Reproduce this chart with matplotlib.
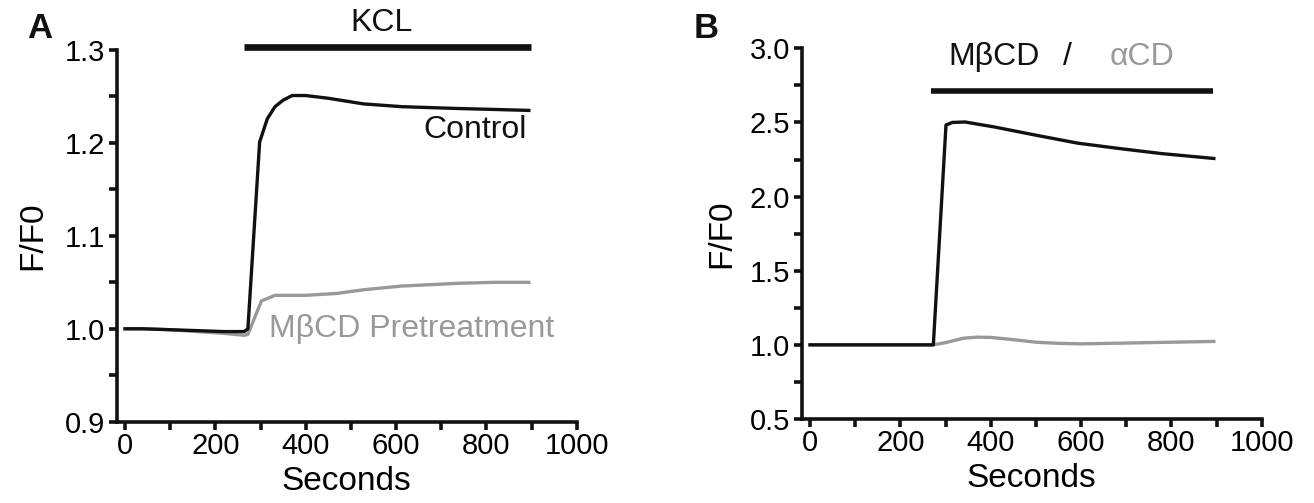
import matplotlib
matplotlib.use("Agg")
import matplotlib.pyplot as plt
from matplotlib.ticker import MultipleLocator

plt.rcParams["font.family"] = ["Liberation Sans", "DejaVu Sans"]

# Panel A: KCL response, control vs MbCD pretreatment
a_ctrl_t = [0, 40, 100, 160, 220, 264, 272, 298, 315, 332, 350, 370, 400, 451, 528, 613, 740, 820, 894]
a_ctrl_v = [1.000, 1.000, 0.999, 0.998, 0.997, 0.997, 1.000, 1.201, 1.226, 1.239, 1.246, 1.251, 1.251, 1.248, 1.242, 1.239, 1.237, 1.236, 1.235]
a_mbcd_t = [0, 40, 100, 160, 220, 264, 272, 302, 332, 400, 468, 528, 613, 740, 820, 894]
a_mbcd_v = [1.000, 1.000, 0.999, 0.997, 0.995, 0.993, 0.994, 1.030, 1.036, 1.036, 1.038, 1.042, 1.046, 1.049, 1.050, 1.050]

# Panel B: MbCD vs aCD application
b_mbcd_t = [0, 100, 200, 273, 301, 315, 343, 407, 500, 593, 685, 778, 894]
b_mbcd_v = [1.0, 1.0, 1.0, 1.0, 2.482, 2.500, 2.503, 2.47, 2.414, 2.36, 2.324, 2.29, 2.257]
b_acd_t = [0, 100, 200, 273, 300, 340, 370, 400, 450, 500, 550, 600, 700, 800, 894]
b_acd_v = [1.0, 1.0, 1.0, 1.0, 1.015, 1.045, 1.052, 1.050, 1.035, 1.018, 1.010, 1.007, 1.012, 1.018, 1.023]

black = "#111111"
gray = "#999999"
fs_tick = 21
fs_lab = 24
fs_txt = 23

fig = plt.figure(figsize=(13.14, 5.03), dpi=100)
axA = fig.add_axes([0.0888, 0.1616, 0.3501, 0.739])
axB = fig.add_axes([0.6101, 0.167, 0.3501, 0.737])


def style(ax, ymin, ymax, ymaj, ymin_step, ypad):
    ax.set_xlim(-18.5, 1000)
    ax.set_ylim(ymin, ymax)
    for s in ["top", "right"]:
        ax.spines[s].set_visible(False)
    for s in ["left", "bottom"]:
        ax.spines[s].set_linewidth(2.6)
        ax.spines[s].set_color(black)
    ax.xaxis.set_major_locator(MultipleLocator(200))
    ax.xaxis.set_minor_locator(MultipleLocator(100))
    ax.yaxis.set_major_locator(MultipleLocator(ymaj))
    ax.yaxis.set_minor_locator(MultipleLocator(ymin_step))
    ax.tick_params(which="both", direction="out", length=5.5, width=2.6,
                   color=black, labelsize=fs_tick)
    ax.tick_params(axis="y", pad=3)
    ax.tick_params(axis="x", pad=2)
    ax.set_xlabel("Seconds", fontsize=fs_lab, labelpad=4)
    ax.set_ylabel("F/F0", fontsize=fs_lab, labelpad=ypad)


style(axA, 0.9, 1.3, 0.1, 0.05, 12)
axA.yaxis.set_major_formatter(plt.FormatStrFormatter("%.1f"))
axA.plot(a_mbcd_t, a_mbcd_v, color=gray, lw=2.4)
axA.plot(a_ctrl_t, a_ctrl_v, color=black, lw=2.4)
axA.plot([264, 898], [1.3036, 1.3036], color=black, lw=4.8, clip_on=False, solid_capstyle="butt")
axA.text(568, 1.3287, "KCL", fontsize=fs_txt, ha="center", va="center", color=black)
axA.text(889, 1.214, "Control", fontsize=fs_txt, ha="right", va="center", color=black)
axA.text(319, 1.0, "M\u03b2CD Pretreatment", fontsize=fs_txt, ha="left", va="center",
         color=gray, clip_on=False)
fig.text(27 / 1314, 1 - 38 / 503, "A", fontsize=25, fontweight="bold", color=black)

style(axB, 0.5, 3.0, 0.5, 0.25, 9)
axB.yaxis.set_major_formatter(plt.FormatStrFormatter("%.1f"))
axB.plot(b_acd_t, b_acd_v, color=gray, lw=2.4)
axB.plot(b_mbcd_t, b_mbcd_v, color=black, lw=2.4)
axB.plot([268, 893], [2.71, 2.71], color=black, lw=4.0, solid_capstyle="butt")
axB.text(407, 2.94, "M\u03b2CD", fontsize=fs_txt, ha="center", va="center", color=black)
axB.text(569, 2.94, "/", fontsize=fs_txt, ha="center", va="center", color=black)
axB.text(736, 2.94, "\u03b1CD", fontsize=fs_txt, ha="center", va="center", color=gray)
fig.text(694 / 1314, 1 - 38 / 503, "B", fontsize=25, fontweight="bold", color=black)

fig.savefig("out.png", dpi=100)
